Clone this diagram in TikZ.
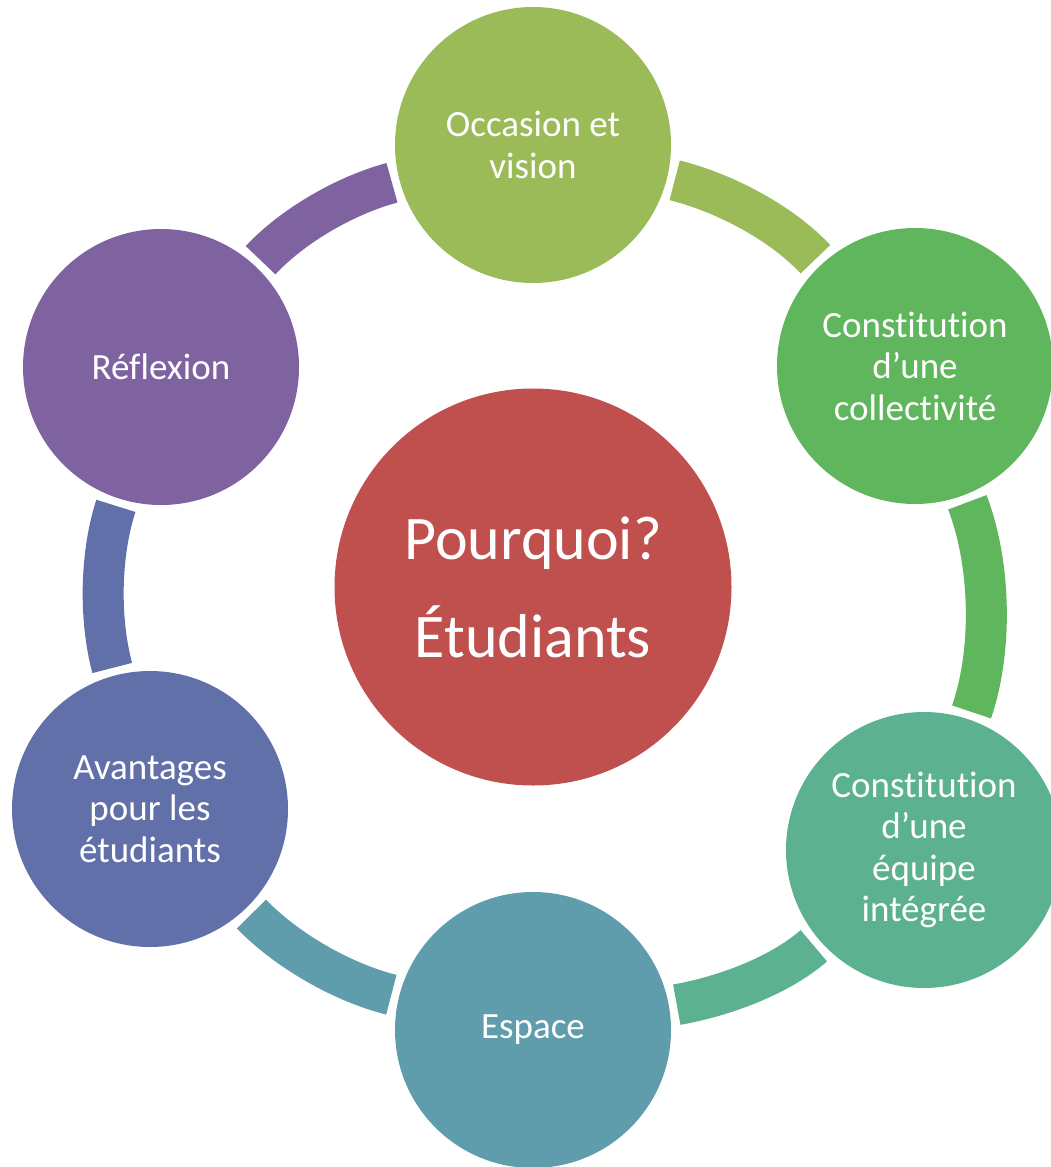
\documentclass[tikz,border=0pt]{standalone}
\usepackage{fontspec}
\setmainfont{Carlito}[Ligatures={NoCommon,NoRequired,NoContextual}, Contextuals=NoAlternate]
\usepackage{tikz}

\definecolor{hubred}{HTML}{C0504D}
\definecolor{occgreen}{HTML}{9BBB59}
\definecolor{collgreen}{HTML}{5FB65C}
\definecolor{equipeteal}{HTML}{5CB190}
\definecolor{espaceblue}{HTML}{609DAC}
\definecolor{avantblue}{HTML}{6270A9}
\definecolor{reflpurple}{HTML}{7F63A0}

\begin{document}
\begin{tikzpicture}[x=1pt, y=-1pt,
  petal/.style={circle, minimum size=276pt, inner sep=0pt, outer sep=8pt, text=white, align=center, font=\fontsize{37}{41.5}\selectfont},
  hub/.style={circle, fill=hubred, minimum size=397pt, inner sep=0pt, text=white, align=center, font=\fontsize{62}{98}\selectfont},
  ring/.style={line width=41pt, looseness=0.8}]
\useasboundingbox (0,0) rectangle (1051,1167);

% Centre
\node[hub] (why) at (533,587) {Pourquoi?\\Étudiants};

% Outer circles
\node[petal, fill=occgreen] (occ) at (533,145) {Occasion et\\vision};
\node[petal, fill=collgreen] (coll) at (915,366) {Constitution\\d’une\\collectivité};
\node[petal, fill=equipeteal] (equipe) at (924,850) {Constitution\\d’une\\équipe\\intégrée};
\node[petal, fill=espaceblue] (espace) at (533,1030) {Espace};
\node[petal, fill=avantblue] (avant) at (150,809) {Avantages\\pour les\\étudiants};
\node[petal, fill=reflpurple] (refl) at (161,367) {Réflexion};

% Ring pieces
\draw[ring, occgreen] (occ) to[out=-14, in=133] (coll);
\draw[ring, collgreen] (coll) to[out=-69, in=71] (equipe);
\draw[ring, equipeteal] (equipe) to[out=-139, in=10] (espace);
\draw[ring, espaceblue] (espace) to[out=166, in=-46] (avant);
\draw[ring, avantblue] (avant) to[out=105, in=-108] (refl);
\draw[ring, reflpurple] (refl) to[out=47, in=195] (occ);
\end{tikzpicture}
\end{document}
